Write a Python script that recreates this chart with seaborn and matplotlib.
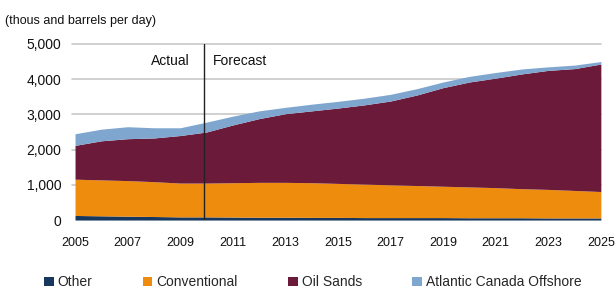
import numpy as np
import matplotlib
matplotlib.use("Agg")
import matplotlib.pyplot as plt
import seaborn as sns
from matplotlib.patches import Patch

years = list(range(2005, 2026))
other = [130, 120, 110, 100, 90, 90, 85, 80, 80, 75, 75, 70, 70, 70, 70, 65, 65, 65, 60, 60, 60]
conventional = [1030, 1020, 1010, 990, 960, 960, 975, 990, 990, 985, 965, 950, 930, 910, 890, 875, 855, 825, 810, 780, 750]
oil_sands = [960, 1110, 1190, 1240, 1350, 1450, 1640, 1810, 1950, 2040, 2140, 2250, 2380, 2570, 2800, 2980, 3110, 3260, 3380, 3460, 3620]
atlantic = [330, 330, 340, 290, 220, 280, 250, 220, 180, 190, 190, 190, 190, 180, 160, 160, 160, 140, 100, 100, 70]

series_names = ["Other", "Conventional", "Oil Sands", "Atlantic Canada Offshore"]
colors = ["#17375E", "#EE8C0E", "#6C1A3A", "#7EA6CF"]
ytick_vals = [0, 1000, 2000, 3000, 4000, 5000]
ytick_labels = ["0", "1,000", "2,000", "3,000", "4,000", "5,000"]
xtick_vals = list(range(2005, 2026, 2))
split_year = 2009.9

sns.set_theme(style="white")
plt.rcParams['font.family'] = ['Liberation Sans', 'DejaVu Sans']

fig = plt.figure(figsize=(6.15, 2.93), dpi=100)
ax = fig.add_axes([0.122, 0.249, 0.855, 0.601])

ax.stackplot(years, other, conventional, oil_sands, atlantic, colors=colors, linewidth=0)
ax.set_xlim(2005, 2025)
ax.set_ylim(0, 5000)
ax.set_yticks(ytick_vals)
ax.set_yticklabels(ytick_labels)
ax.set_xticks(xtick_vals)
ax.set_xticklabels([str(x) for x in xtick_vals])
for v in ytick_vals[1:]:
    ax.axhline(v, color="#C8C8C8", lw=1.2, zorder=0, xmin=-0.005, clip_on=False)
for s in ax.spines.values():
    s.set_visible(False)
ax.tick_params(axis="y", length=0, labelsize=10, colors="#111111", pad=10)
ax.tick_params(axis="x", length=0, labelsize=9, colors="#111111", pad=12)

ax.axvline(split_year, color="#222222", lw=1.0, zorder=5)
ax.text(split_year - 0.55, 4520, "Actual", ha="right", va="center", fontsize=10, color="#111111")
ax.text(split_year + 0.35, 4520, "Forecast", ha="left", va="center", fontsize=10, color="#111111")

fig.text(0.008, 0.93, "(thous and barrels per day)", fontsize=9, ha="left", va="center", color="#111111")

handles = [Patch(facecolor=c, edgecolor="none") for c in colors]
fig.legend(handles, series_names, loc="center left", bbox_to_anchor=(0.051, 0.036), ncol=4,
           frameon=False, fontsize=10, handlelength=0.7, handleheight=0.7,
           handletextpad=0.3, columnspacing=3.6)

fig.savefig("out.png", dpi=100)
